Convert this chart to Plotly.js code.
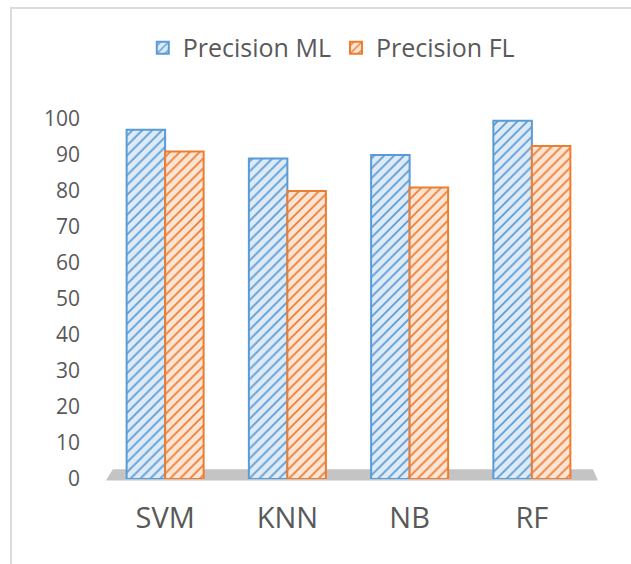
<!DOCTYPE html>
<html>
<head>
<meta charset="utf-8">
<script src="https://cdn.plot.ly/plotly-3.0.1.min.js"></script>
<style>
  html, body { margin: 0; padding: 0; background: #fff; overflow: hidden; }
  #wrap { position: relative; width: 631px; height: 564px; }
  #chart { position: absolute; left: 0; top: 0; width: 631px; height: 564px; }
  #frame { position: absolute; left: 10px; top: 7px; width: 700px; height: 700px;
           border-left: 2px solid #dcdcdc; border-top: 2px solid #dcdcdc; pointer-events: none; }
</style>
</head>
<body>
<div id="wrap">
  <div id="chart"></div>
  <div id="frame"></div>
</div>
<script>
// Classifier precision, two training setups
const models = ['SVM', 'KNN', 'NB', 'RF'];
const precisionML = [97, 89, 90, 99.5];
const precisionFL = [91, 80, 81, 92.5];
const yTicks = [0, 10, 20, 30, 40, 50, 60, 70, 80, 90, 100];

const textColor = '#595959';
const font = 'Open Sans, Lato, sans-serif';

function hatchedBar(name, values, edge, fill) {
  return {
    type: 'bar',
    name: name,
    x: models,
    y: values,
    marker: {
      color: fill,
      line: { color: edge, width: 2 },
      pattern: { shape: '/', fgcolor: edge, bgcolor: fill, size: 7, solidity: 0.25, fgopacity: 1 }
    },
    hoverinfo: 'x+y+name'
  };
}

const traces = [
  hatchedBar('Precision ML', precisionML, '#5b9bd5', '#deebf7'),
  hatchedBar('Precision FL', precisionFL, '#ed7d31', '#fde5d6')
];

const layout = {
  width: 631,
  height: 564,
  margin: { l: 104, r: 38, t: 119, b: 85 },
  paper_bgcolor: '#ffffff',
  plot_bgcolor: 'rgba(0,0,0,0)',
  barmode: 'group',
  bargap: 0.37,
  bargroupgap: 0,
  font: { family: font, color: textColor },
  showlegend: true,
  legend: {
    orientation: 'h',
    xref: 'container', yref: 'container',
    x: 0.525, xanchor: 'center',
    y: 0.915, yanchor: 'middle',
    font: { size: 25, color: textColor, family: font },
    itemsizing: 'constant',
    traceorder: 'normal'
  },
  xaxis: {
    type: 'category',
    range: [-0.5, 3.5],
    showgrid: false, zeroline: false, showline: false,
    ticks: '',
    ticklabelstandoff: 19,
    tickfont: { size: 29, color: textColor, family: font },
    fixedrange: true
  },
  yaxis: {
    range: [0, 100],
    tickvals: yTicks,
    ticktext: yTicks.map(String),
    showgrid: false, zeroline: false, showline: false,
    ticks: '',
    ticklabelstandoff: 23,
    tickfont: { size: 21, color: textColor, family: font },
    fixedrange: true
  },
  shapes: [
    // grey floor slab under the columns
    {
      type: 'path',
      xref: 'paper', yref: 'paper',
      path: 'M 0.004,-0.004 L 1.01,-0.004 L 1.0,0.027 L 0.018,0.027 Z',
      fillcolor: '#c4c4c4',
      line: { width: 0 },
      layer: 'below'
    }
  ]
};

Plotly.newPlot('chart', traces, layout, { displayModeBar: false, staticPlot: true });
</script>
</body>
</html>
